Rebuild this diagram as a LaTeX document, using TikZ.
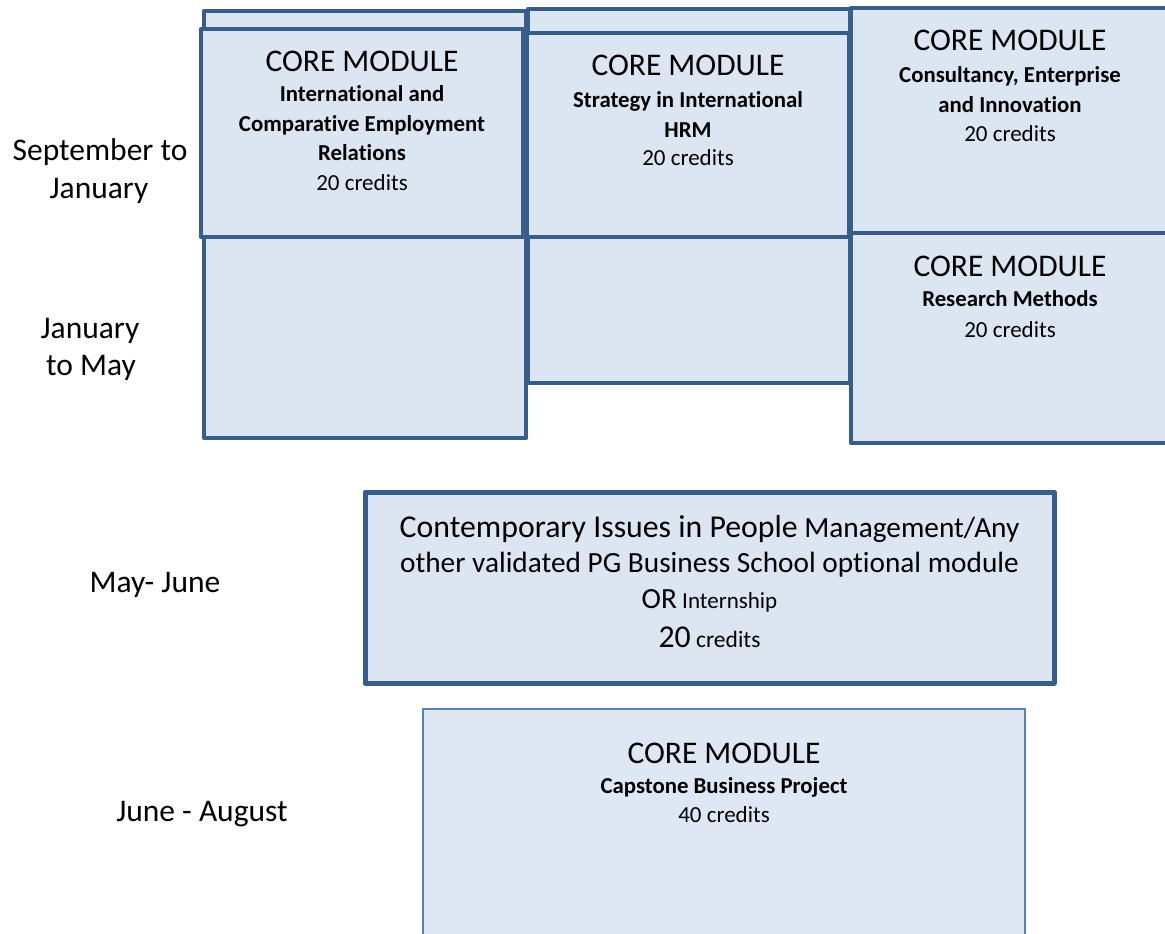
\documentclass[tikz,border=0pt]{standalone}
\usepackage{fontspec}
\setmainfont{Carlito}[Ligatures={NoCommon}]
\newcommand\fsz[1]{\fontsize{#1}{#1}\selectfont}
\definecolor{bordc}{HTML}{385D8A}
\definecolor{fillc}{HTML}{DCE6F2}
\definecolor{capbord}{HTML}{5A80B4}
\definecolor{capfill}{HTML}{DEE8F5}
\tikzset{
  modbox/.style={draw=bordc, fill=fillc, line width=4.5pt, line join=round, inner sep=0pt, outer sep=0pt, anchor=north west},
  capbox/.style={draw=capbord, fill=capfill, line width=2pt, inner sep=0pt, outer sep=0pt, anchor=north west},
  coretxt/.style={font=\fsz{31.5}, anchor=base, inner sep=0pt},
  boldtxt/.style={font=\fsz{22.8}\bfseries, anchor=base, inner sep=0pt},
  credtxt/.style={font=\fsz{23}, anchor=base, inner sep=0pt},
  periodtxt/.style={font=\fsz{31.5}, anchor=base, inner sep=0pt}
}
\begin{document}
\begin{tikzpicture}[x=1pt,y=-1pt]
\useasboundingbox (0,0) rectangle (1165,934);

% left column
\node[modbox, minimum width=322pt, minimum height=427pt] (leftback) at (204,11) {};
\node[modbox, minimum width=322pt, minimum height=208pt] (leftfront) at (201,29) {};
% middle column
\node[modbox, minimum width=322pt, minimum height=374pt] (midback) at (528,9) {};
\node[modbox, minimum width=322pt, minimum height=204pt] (midfront) at (527,33) {};
% right column
\node[modbox, minimum width=320pt, minimum height=226pt] (righttop) at (851,8) {};
\node[modbox, minimum width=320pt, minimum height=210pt] (rightbot) at (851,233) {};
% May-June box
\node[modbox, line width=5pt, minimum width=689pt, minimum height=191pt] (maybox) at (365,492) {};
% Capstone box
\node[capbox, minimum width=602pt, minimum height=260pt] (capbox) at (423,709) {};

% period labels
\node[periodtxt] (p1a) at (100,160) {September to};
\node[periodtxt] (p1b) at (99,198) {January};
\node[periodtxt] (p2a) at (90,338) {January};
\node[periodtxt] (p2b) at (91,375) {to May};
\node[periodtxt] (p3) at (155,592) {May- June};
\node[periodtxt] (p4) at (202,821) {June - August};

% left module
\node[coretxt] (l1) at (362,72) {CORE MODULE};
\node[boldtxt] (l2) at (362,102) {International and};
\node[boldtxt] (l3) at (362,131) {Comparative Employment};
\node[boldtxt] (l4) at (362,160) {Relations};
\node[credtxt] (l5) at (362,190) {20 credits};

% middle module
\node[coretxt] (m1) at (688,76) {CORE MODULE};
\node[boldtxt] (m2) at (688,107) {Strategy in International};
\node[boldtxt] (m3) at (688,137) {HRM};
\node[credtxt] (m4) at (688,165) {20 credits};

% right top module
\node[coretxt] (r1) at (1010,51) {CORE MODULE};
\node[boldtxt] (r2) at (1010,82) {Consultancy, Enterprise};
\node[boldtxt] (r3) at (1010,112) {and Innovation};
\node[credtxt] (r4) at (1010,141) {20 credits};

% right bottom module
\node[coretxt] (s1) at (1010,276) {CORE MODULE};
\node[boldtxt] (s2) at (1010,306) {Research Methods};
\node[credtxt] (s3) at (1010,337) {20 credits};

% May-June module
\node[anchor=base, inner sep=0pt] (o1) at (709.5,537) {{\fsz{31.8}Contemporary Issues in People}{\fsz{29.3} Management/Any}};
\node[anchor=base, inner sep=0pt, font=\fsz{29.3}] (o2) at (709.5,572) {other validated PG Business School optional module};
\node[anchor=base, inner sep=0pt] (o3) at (709.5,608) {{\fsz{29.3}OR}{\fsz{23} Internship}};
\node[anchor=base, inner sep=0pt] (o4) at (709.5,647) {{\fsz{31.8}20}{\fsz{23.5} credits}};

% Capstone module
\node[coretxt] (c1) at (724,763) {CORE MODULE};
\node[boldtxt] (c2) at (724,793) {Capstone Business Project};
\node[credtxt] (c3) at (724,822) {40 credits};
\end{tikzpicture}
\end{document}
